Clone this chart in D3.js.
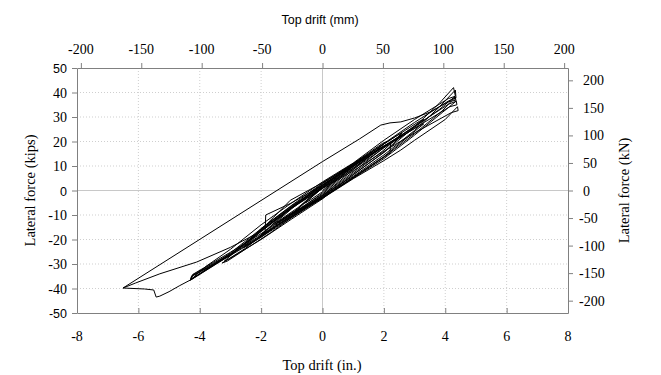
<!DOCTYPE html>
<html>
<head>
<meta charset="utf-8">
<script src="https://cdn.jsdelivr.net/npm/d3@7"></script>
<style>
  body { margin: 0; background: #fff; }
  svg { display: block; }
  .lbl { font-family: "Liberation Serif", "Times New Roman", serif; font-size: 14px; fill: #000; }
  .lbl.sans { font-family: "Liberation Sans", Arial, sans-serif; font-size: 12.5px; }
</style>
</head>
<body>
<svg id="chart" width="661" height="375"></svg>
<script>
// top drift (in.) vs lateral force (kips)
const smallCycles = [
  [0, 0], [0.3, 3], [0.55, 5.5], [0.45, 4.8], [0, 1], [-0.3, -2], [-0.55, -5], [-0.45, -4.3], [0, -0.5],
  [0.5, 5], [1.0, 10], [0.85, 9.2], [0, 2], [-0.5, -4], [-1.0, -9.5], [-0.85, -8.6], [0, -1],
  [0.8, 7.8], [1.5, 14.5], [1.35, 13.6], [0.5, 6.2], [0, 1.5], [-0.8, -7], [-1.5, -13], [-1.35, -12.2], [-0.5, -5.4], [0, -1.5],
  [0.8, 7.2], [1.55, 14], [1.4, 13.2], [0.5, 5.6], [0, 1], [-0.8, -7.5], [-1.55, -13.8], [-1.4, -12.8], [-0.5, -5.8], [0, -2]
];
const cycle2in = [
  [1, 8.5], [2.1, 20], [1.95, 19.2], [1, 11], [0, 2.8], [-1, -6.8], [-2, -18], [-1.85, -17.2], [-0.8, -8.8], [0, -2],
  [1, 7.6], [2.15, 19], [2.0, 18.2], [1, 10.2], [0, 2.2], [-1, -7.4], [-2.05, -18.6], [-1.9, -17.6], [-0.8, -9.2], [0, -2.4]
];
const cycle25in = [
  [1, 7], [2, 16.5], [2.6, 23.5], [2.45, 22.6], [1.5, 15], [0, 3], [-1, -6], [-2, -15.5], [-2.55, -22.8],
  [-2.4, -21.9], [-1.5, -14.5], [0, -2.6], [1, 6.4], [2, 15.6], [2.62, 22.8], [2.5, 22], [1.5, 14.4], [0, 2.4],
  [-1, -6.8], [-2, -16.4], [-2.58, -23.4], [-2.42, -22.4], [-1.5, -15], [0, -3]
];
const cycle3in = [
  [1, 5.5], [2.2, 15.3], [2.22, 19.4], [3.3, 29], [3.15, 28.2], [2, 19], [0.5, 6.5], [0, 2.2],
  [-1, -5], [-1.85, -10], [-1.87, -17], [-2.5, -23.5], [-3.27, -29.6], [-3.1, -28.8], [-1.7, -17.3], [-1, -11], [0, -3],
  [1, 5.2], [2, 13.8], [3.3, 27.2], [3.15, 26.4], [2, 17.8], [0.5, 5.8], [0, 1.6], [-1, -6.5], [-2, -15.8],
  [-3.2, -28.8], [-3.05, -28], [-2, -20], [-1, -11.6], [0, -3.4]
];
const cycle4inA = [
  [1, 6.5], [2, 15.5], [3, 26], [3.8, 35.5], [4.27, 42], [4.33, 38.5], [4.1, 37.5], [3, 29], [2, 20.5],
  [1, 11.2], [0, 3.5], [-1, -5], [-2, -14], [-3, -24], [-3.8, -31], [-4.3, -36.5], [-4.27, -35],
  [-4.1, -34], [-3, -26.5], [-2, -19], [-1, -10], [0, -2]
];
const cycle4inB = [
  [1, 5.8], [2, 14.5], [3, 24.5], [3.8, 34], [4.33, 41], [4.35, 37.8], [4.1, 36.5], [3, 27.8], [2, 19.2],
  [1, 10], [0, 2], [-1, -6.2], [-2, -15.6], [-3, -25.5], [-4.3, -36.5], [-4.25, -34.6], [-3, -25.8],
  [-2, -18.2], [-1, -9.6], [0, -2.6]
];
const cycle4inC = [
  [1, 5.2], [2, 13.6], [3, 23.2], [3.9, 32.5], [4.33, 38.2], [4.35, 36.4], [4.1, 35.2], [3, 26.2], [2, 18],
  [1, 9.2], [0, 1.4], [-1, -6.8], [-2, -16.2], [-3, -26], [-4.28, -36.2], [-4.22, -34.2], [-3, -25.2],
  [-2, -17.6], [-1, -9.2], [0, -3]
];
const cycle4inD = [
  [1, 5], [2, 13], [3, 22.6], [3.9, 31.8], [4.36, 36.5], [4.38, 35], [4.15, 34.2], [3, 25.4], [2, 17.4],
  [1, 8.6], [0, 1], [-1, -7], [-2, -16.6], [-3, -26.4], [-4.3, -36.6], [-4.24, -34.8], [-3, -26.2],
  [-2, -18.6], [-1, -10], [0, -3.2]
];
const cycle4inE = [
  [1, 4.8], [2, 12.2], [2.55, 16.5], [3, 20.5], [4, 29], [4.4, 34.2], [4.42, 32.6], [4.2, 31.8], [3, 23.5],
  [2, 16], [1, 8], [0, 0.8], [-1, -7.2], [-2, -16.8], [-3, -26.2], [-4.3, -36.5]
];
const pushNegative = [
  [-4.65, -38.8], [-5.0, -41.3], [-5.3, -43.1], [-5.42, -43.5], [-5.5, -40.6], [-5.8, -40.2], [-6.5, -39.8]
];
const reloadFromNegative = [
  [-6.1, -37.8], [-5.3, -34], [-4.1, -29.2], [-3, -23.2], [-2.1, -17.3], [-1.6, -11], [-1.05, -4],
  [0, 3.2], [1, 10.5], [2, 18], [3, 25.8], [3.8, 33], [4.3, 38.2], [4.32, 36.8]
];
const finalBranch = [
  [4.1, 36.2], [3.5, 32], [3.0, 29.6], [2.55, 28], [2.2, 27.6], [1.9, 26.7], [1.2, 21], [0, 11.8], [-6.5, -39.8]
];

const drift = [].concat(smallCycles, cycle2in, cycle25in, cycle3in, cycle4inA, cycle4inB, cycle4inC,
  cycle4inD, cycle4inE, pushNegative, reloadFromNegative, finalBranch);

const inTicks = [-8, -6, -4, -2, 0, 2, 4, 6, 8];
const kipTicks = [-50, -40, -30, -20, -10, 0, 10, 20, 30, 40, 50];
const mmTicks = [-200, -150, -100, -50, 0, 50, 100, 150, 200];
const kNTicks = [-200, -150, -100, -50, 0, 50, 100, 150, 200];

const MM_PER_IN = 25.4, KN_PER_KIP = 4.448;

const svg = d3.select('#chart');
const plotLeft = 77, plotRight = 568, plotTop = 68, plotBottom = 313;

const x = d3.scaleLinear().domain([-8, 8]).range([plotLeft, plotRight]);
const y = d3.scaleLinear().domain([-50, 50]).range([plotBottom, plotTop]);
const xTop = d3.scaleLinear().domain([-8 * MM_PER_IN, 8 * MM_PER_IN]).range([plotLeft, plotRight]);
const yRight = d3.scaleLinear().domain([-50 * KN_PER_KIP, 50 * KN_PER_KIP]).range([plotBottom, plotTop]);

// grid
const grid = svg.append('g');
grid.selectAll('.vg').data(inTicks.filter(d => d > -8 && d < 8)).enter().append('line')
  .attr('x1', d => x(d)).attr('x2', d => x(d)).attr('y1', plotTop).attr('y2', plotBottom)
  .attr('stroke', d => d === 0 ? '#c8c8c8' : '#cfcfcf')
  .attr('stroke-dasharray', d => d === 0 ? null : '1,2');
grid.selectAll('.hg').data(kipTicks.filter(d => d > -50 && d < 50)).enter().append('line')
  .attr('y1', d => y(d)).attr('y2', d => y(d)).attr('x1', plotLeft).attr('x2', plotRight)
  .attr('stroke', d => d === 0 ? '#c8c8c8' : '#cfcfcf')
  .attr('stroke-dasharray', d => d === 0 ? null : '1,2');

// data
const line = d3.line().x(d => x(d[0])).y(d => y(d[1]));
svg.append('path').datum(drift)
  .attr('d', line)
  .attr('fill', 'none')
  .attr('stroke', '#000')
  .attr('stroke-width', 1)
  .attr('stroke-linejoin', 'round');

// axes: lines and ticks from d3, labels written as plain text below
function styleAxis(g) {
  g.select('.domain').attr('stroke', '#808080');
  g.selectAll('.tick line').attr('stroke', '#808080');
  g.selectAll('.tick text').remove();
}
svg.append('g').attr('transform', `translate(0,${plotBottom})`)
  .call(d3.axisBottom(x).tickValues(inTicks).tickSizeInner(-5).tickSizeOuter(0))
  .call(styleAxis);
svg.append('g').attr('transform', `translate(0,${plotTop})`)
  .call(d3.axisTop(xTop).tickValues(mmTicks).tickSizeInner(5).tickSizeOuter(0))
  .call(styleAxis);
svg.append('g').attr('transform', `translate(${plotLeft},0)`)
  .call(d3.axisLeft(y).tickValues(kipTicks).tickSizeInner(5).tickSizeOuter(0))
  .call(styleAxis);
svg.append('g').attr('transform', `translate(${plotRight},0)`)
  .call(d3.axisRight(yRight).tickValues(kNTicks).tickSizeInner(5).tickSizeOuter(0))
  .call(styleAxis);

const labels = svg.append('g');
labels.selectAll('.bl').data(inTicks).enter().append('text')
  .attr('class', 'lbl').attr('x', d => x(d)).attr('y', plotBottom + 28)
  .attr('text-anchor', 'middle').text(d => String(d));
labels.selectAll('.tl').data(mmTicks).enter().append('text')
  .attr('class', 'lbl').attr('x', d => xTop(d)).attr('y', plotTop - 14)
  .attr('text-anchor', 'middle').text(d => String(d));
// the 50, 0 and -50 labels are set in a sans face in the original
labels.selectAll('.ll').data(kipTicks).enter().append('text')
  .attr('class', d => (d === 50 || d === 0 || d === -50) ? 'lbl sans' : 'lbl')
  .attr('x', plotLeft - 10).attr('y', d => y(d) + 5)
  .attr('text-anchor', 'end').text(d => String(d));
labels.selectAll('.rl').data(kNTicks).enter().append('text')
  .attr('class', 'lbl').attr('x', d => plotRight + (d < 0 ? 11 : 15)).attr('y', d => yRight(d) + 5)
  .text(d => String(d));

// titles
svg.append('text').attr('x', 320).attr('y', 24).attr('text-anchor', 'middle')
  .attr('class', 'lbl sans').text('Top drift (mm)');
svg.append('text').attr('x', 322).attr('y', 370).attr('text-anchor', 'middle')
  .attr('class', 'lbl').style('font-size', '14.5px').text('Top drift (in.)');
svg.append('text').attr('transform', `translate(35,${(plotTop + plotBottom) / 2}) rotate(-90)`)
  .attr('text-anchor', 'middle')
  .attr('class', 'lbl').style('font-size', '14.5px').text('Lateral force (kips)');
svg.append('text').attr('transform', `translate(629,${(plotTop + plotBottom) / 2}) rotate(-90)`)
  .attr('text-anchor', 'middle')
  .attr('class', 'lbl').style('font-size', '14.5px').text('Lateral force (kN)');
</script>
</body>
</html>
